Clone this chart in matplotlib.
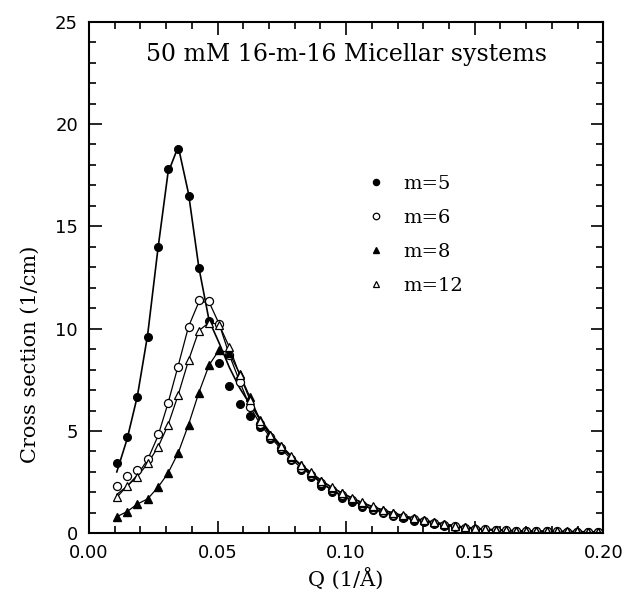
import numpy as np
import matplotlib
matplotlib.use('Agg')
import matplotlib.pyplot as plt
from matplotlib.ticker import MultipleLocator, FormatStrFormatter

# Q grid (1/A)
q = [0.0108, 0.0148, 0.0188, 0.0228, 0.0268, 0.0307, 0.0347, 0.0387, 0.0427, 0.0467,
     0.0506, 0.0546, 0.0586, 0.0626, 0.0665, 0.0705, 0.0745, 0.0785, 0.0825, 0.0864,
     0.0904, 0.0944, 0.0984, 0.1024, 0.1063, 0.1103, 0.1143, 0.1183, 0.1223, 0.1262,
     0.1302, 0.1342, 0.1382, 0.1422, 0.1461, 0.1501, 0.1541, 0.1581, 0.1621, 0.1660,
     0.1700, 0.1740, 0.1780, 0.1820, 0.1859, 0.1899, 0.1939, 0.1979]

# measured cross sections
m5 = [3.42, 4.72, 6.65, 9.61, 14.0, 17.8, 18.8, 16.5, 12.95, 10.37,
      8.34, 7.21, 6.30, 5.73, 5.20, 4.63, 4.05, 3.56, 3.10, 2.75,
      2.33, 2.03, 1.74, 1.53, 1.30, 1.12, 0.98, 0.85, 0.73, 0.62,
      0.55, 0.45, 0.36, 0.29, 0.23, 0.19, 0.16, 0.14, 0.12, 0.11,
      0.10, 0.09, 0.09, 0.08, 0.08, 0.07, 0.07, 0.07]
m6 = [2.31, 2.82, 3.11, 3.62, 4.85, 6.35, 8.14, 10.1, 11.4, 11.34,
      10.23, 8.71, 7.41, 6.19, 5.35, 4.70, 4.15, 3.65, 3.20, 2.85,
      2.45, 2.13, 1.85, 1.62, 1.40, 1.20, 1.05, 0.91, 0.79, 0.68,
      0.59, 0.50, 0.41, 0.34, 0.28, 0.23, 0.19, 0.16, 0.14, 0.12,
      0.11, 0.10, 0.09, 0.09, 0.08, 0.08, 0.08, 0.07]
m8 = [0.81, 1.06, 1.43, 1.68, 2.25, 2.93, 3.94, 5.31, 6.87, 8.22,
      8.96, 8.80, 7.79, 6.65, 5.54, 4.80, 4.25, 3.75, 3.32, 2.95,
      2.55, 2.23, 1.95, 1.70, 1.48, 1.28, 1.12, 0.98, 0.85, 0.73,
      0.63, 0.54, 0.45, 0.37, 0.30, 0.25, 0.21, 0.17, 0.15, 0.13,
      0.12, 0.11, 0.10, 0.10, 0.09, 0.09, 0.08, 0.08]
m12 = [1.76, 2.31, 2.77, 3.42, 4.20, 5.28, 6.77, 8.45, 9.90, 10.3,
       10.2, 9.09, 7.74, 6.52, 5.50, 4.80, 4.25, 3.78, 3.35, 2.98,
       2.58, 2.26, 1.98, 1.73, 1.51, 1.31, 1.15, 1.00, 0.87, 0.75,
       0.65, 0.55, 0.46, 0.38, 0.31, 0.26, 0.21, 0.18, 0.15, 0.13,
       0.12, 0.11, 0.10, 0.10, 0.09, 0.09, 0.08, 0.08]

# fitted curves (where they differ from the points)
fit5 = [3.0, 4.6, 6.7, 9.7, 13.9, 17.6, 18.9, 16.6, 13.0, 10.4,
        9.3, 8.1, 7.1, 6.3, 5.6, 4.9, 4.3, 3.8, 3.3, 2.9,
        2.45, 2.12, 1.82, 1.6, 1.37, 1.18, 1.03, 0.9, 0.78, 0.66,
        0.58, 0.49, 0.4, 0.33, 0.27, 0.22, 0.18, 0.15, 0.13, 0.12,
        0.1, 0.09, 0.09, 0.08, 0.08, 0.07, 0.07, 0.07]
fit6 = [1.9, 2.3, 2.85, 3.6, 4.75, 6.35, 8.2, 10.1, 11.3, 11.3] + m6[10:]

fig = plt.figure(figsize=(6.23, 5.98), dpi=100)
ax = fig.add_axes([0.1429, 0.1082, 0.8254, 0.8555])

# fit lines
ax.plot(q, fit5, color='black', lw=1.2)
ax.plot(q, fit6, color='black', lw=0.9)
ax.plot(q, m8, color='black', lw=0.9)
ax.plot(q, m12, color='black', lw=0.9)

# data points
h5, = ax.plot(q, m5, 'o', ms=5.5, mfc='black', mec='black', ls='none', label='m=5')
h6, = ax.plot(q, m6, 'o', ms=5.8, mfc='white', mec='black', mew=0.9, ls='none', label='m=6')
h8, = ax.plot(q, m8, '^', ms=5.5, mfc='black', mec='black', ls='none', label='m=8')
h12, = ax.plot(q, m12, '^', ms=5.5, mfc='white', mec='black', mew=0.9, ls='none', label='m=12')

ax.set_xlim(0, 0.2)
ax.set_ylim(0, 25)
ax.xaxis.set_major_locator(MultipleLocator(0.05))
ax.xaxis.set_minor_locator(MultipleLocator(0.01))
ax.yaxis.set_major_locator(MultipleLocator(5))
ax.yaxis.set_minor_locator(MultipleLocator(1))
ax.xaxis.set_major_formatter(FormatStrFormatter('%.2f'))
ax.tick_params(which='both', direction='in', top=True, right=True, width=1.2, colors='black')
ax.tick_params(which='major', length=9, labelsize=13, pad=8)
ax.tick_params(which='minor', length=5)
for s in ax.spines.values():
    s.set_linewidth(1.5)

ax.set_xlabel('Q (1/Å)', fontsize=15, family='DejaVu Serif', labelpad=4)
ax.set_ylabel('Cross section (1/cm)', fontsize=15, family='DejaVu Serif')
ax.yaxis.set_label_coords(-0.095, 0.35)

ax.text(0.5, 0.935, '50 mM 16-m-16 Micellar systems', transform=ax.transAxes,
        ha='center', va='center', fontsize=17, family='DejaVu Serif')

leg = ax.legend(handles=[h5, h6, h8, h12], loc='upper left', bbox_to_anchor=(0.505, 0.735),
                frameon=False, markerscale=0.8, handlelength=1.0, handletextpad=0.9,
                labelspacing=0.82, prop={'family': 'DejaVu Serif', 'size': 14})

fig.savefig('out.png', dpi=100)
